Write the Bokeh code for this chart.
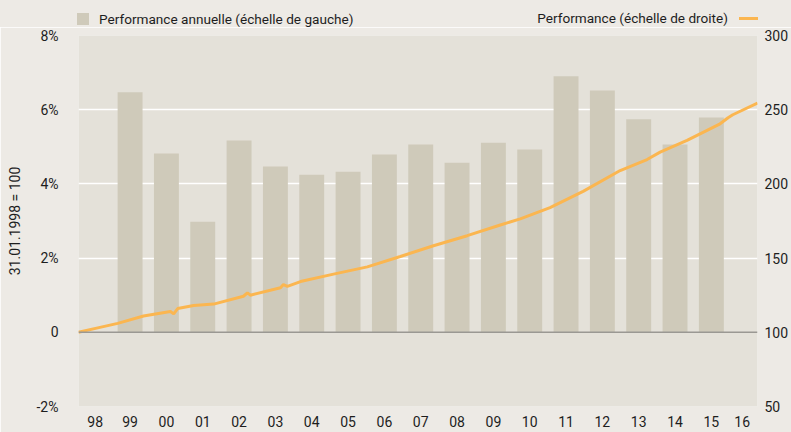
from bokeh.plotting import figure
from bokeh.layouts import column
from bokeh.models import (Range1d, LinearAxis, FixedTicker, CustomJSTickFormatter,
                          Span, Div)
from bokeh.embed import file_html
from bokeh.resources import INLINE

# ---- data ----
bar_years = [1999, 2000, 2001, 2002, 2003, 2004, 2005, 2006, 2007, 2008,
             2009, 2010, 2011, 2012, 2013, 2014, 2015]
bar_values = [6.47, 4.82, 2.98, 5.17, 4.47, 4.25, 4.33, 4.79, 5.06, 4.57,
              5.11, 4.93, 6.90, 6.52, 5.74, 5.06, 5.79]

line_dates = [1998.08, 1998.61, 1999.16, 1999.87, 2000.61, 2000.70, 2000.81,
              2001.25, 2001.80, 2002.62, 2002.73, 2002.81, 2003.64, 2003.72,
              2003.83, 2004.19, 2005.10, 2006.03, 2006.94, 2007.85, 2008.78,
              2009.69, 2010.24, 2011.06, 2011.97, 2012.99, 2013.73, 2014.09,
              2014.83, 2015.74, 2015.96, 2016.09, 2016.77]
line_values = [100.0, 103.0, 106.0, 111.0, 114.0, 112.4, 116.0,
               118.0, 119.0, 124.3, 126.6, 125.0, 130.0, 132.2,
               131.0, 134.2, 139.2, 144.1, 151.1, 158.3, 165.1,
               172.3, 176.4, 184.0, 195.0, 209.0, 216.4, 221.4,
               229.3, 240.5, 244.6, 246.6, 254.5]

x_tick_pos = [1998.54, 1999.5, 2000.5, 2001.5, 2002.5, 2003.5, 2004.5, 2005.5,
              2006.5, 2007.5, 2008.5, 2009.5, 2010.5, 2011.5, 2012.5, 2013.5,
              2014.5, 2015.5, 2016.35]
x_tick_labels = ["98", "99", "00", "01", "02", "03", "04", "05", "06", "07",
                 "08", "09", "10", "11", "12", "13", "14", "15", "16"]
left_ticks = [-2, 0, 2, 4, 6, 8]
left_labels = ["-2%", "0", "2%", "4%", "6%", "8%"]
right_ticks = [50, 100, 150, 200, 250, 300]

bar_label = "Performance annuelle (échelle de gauche)"
line_label = "Performance (échelle de droite)"
y_title = "31.01.1998 = 100"

# ---- style ----
FONT = "Roboto"
FSIZE = "14px"
TXT = "#1e1e1e"
PAGE_BG = "#EDEAE5"
PLOT_BG = "#E4E1D9"
BAR_C = "#CFCABA"
LINE_C = "#FBB650"
W = 791

X0, X1 = 1998.08, 2016.77
Y0, Y1 = -2, 8

# ---- legend strip (HTML) ----
legend_html = (
    f'<div style="position:relative;width:{W}px;height:27px;margin:0;padding:0;'
    f'background:{PAGE_BG};font-family:{FONT};font-size:13.6px;color:{TXT};">'
    f'<span style="position:absolute;left:77px;top:13px;width:12px;height:12px;'
    f'background:{BAR_C};"></span>'
    f'<span style="position:absolute;left:99px;top:10px;line-height:18px;'
    f'white-space:nowrap;">{bar_label}</span>'
    f'<span style="position:absolute;right:{W - 728}px;top:9px;line-height:18px;'
    f'white-space:nowrap;">{line_label}</span>'
    f'<span style="position:absolute;left:739px;top:16.5px;width:19px;height:3px;'
    f'background:{LINE_C};"></span>'
    f'</div>'
)
lg = Div(text=legend_html, width=W, height=27, margin=0,
         styles={"background-color": PAGE_BG, "overflow": "hidden"})

# ---- main chart ----
p = figure(width=W, height=405, output_backend="svg", toolbar_location=None,
           x_range=Range1d(X0, X1), y_range=Range1d(Y0, Y1),
           min_border_left=78, min_border_right=33, min_border_top=8,
           min_border_bottom=26)
p.background_fill_color = PLOT_BG
p.border_fill_color = PAGE_BG
p.outline_line_color = None
p.extra_y_ranges = {"right": Range1d(50, 300)}

p.xgrid.visible = False
p.ygrid.ticker = FixedTicker(ticks=[2, 4, 6])
p.ygrid.grid_line_color = "white"
p.ygrid.grid_line_width = 1.5

p.vbar(x=[y + 0.5 for y in bar_years], top=bar_values, bottom=0, width=0.686,
       fill_color=BAR_C, line_color=None)

p.add_layout(Span(location=0, dimension="width", line_color="#9A9893",
                  line_width=1.5))

p.line(line_dates, line_values, y_range_name="right", line_color=LINE_C,
       line_width=3)


def style_axis(ax):
    ax.axis_line_color = None
    ax.major_tick_line_color = None
    ax.minor_tick_line_color = None
    ax.major_tick_out = 0
    ax.major_tick_in = 0
    ax.minor_tick_out = 0
    ax.minor_tick_in = 0
    ax.major_label_text_font = FONT
    ax.major_label_text_font_size = FSIZE
    ax.major_label_text_color = TXT


xa = p.xaxis[0]
style_axis(xa)
xa.ticker = FixedTicker(ticks=x_tick_pos)
xa.formatter = CustomJSTickFormatter(args=dict(labels=x_tick_labels),
                                     code="return labels[index];")
xa.major_label_standoff = 9

ya = p.yaxis[0]
style_axis(ya)
ya.ticker = FixedTicker(ticks=left_ticks)
ya.major_label_overrides = {t: l for t, l in zip(left_ticks, left_labels)}
ya.major_label_standoff = 20
ya.axis_label = y_title
ya.axis_label_text_font = FONT
ya.axis_label_text_font_size = FSIZE
ya.axis_label_text_font_style = "normal"
ya.axis_label_text_color = TXT
ya.axis_label_standoff = 11

ra = LinearAxis(y_range_name="right", ticker=FixedTicker(ticks=right_ticks))
style_axis(ra)
ra.major_label_standoff = 7
p.add_layout(ra, "right")

layout = column(lg, p, spacing=0)
open("out.html", "w").write(file_html(layout, INLINE))
